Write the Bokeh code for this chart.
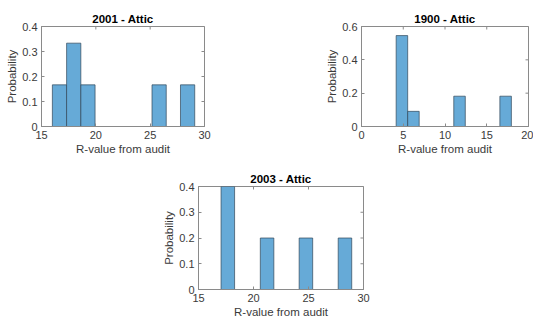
import math
from bokeh.plotting import figure
from bokeh.layouts import row, column
from bokeh.models import FixedTicker, CustomJSTickFormatter, Spacer
from bokeh.embed import file_html
from bokeh.resources import INLINE

# ---------------- data ----------------
title_a = "2001 - Attic"
left_a = [16.0, 17.31, 18.62, 25.17, 27.79]
width_a = 1.31
prob_a = [1 / 6, 2 / 6, 1 / 6, 1 / 6, 1 / 6]
xticks_a = [15, 20, 25, 30]
yticks_a = [0, 0.1, 0.2, 0.3, 0.4]

title_b = "1900 - Attic"
left_b = [4.15, 5.53, 11.05, 16.57]
width_b = 1.38
prob_b = [6 / 11, 1 / 11, 2 / 11, 2 / 11]
xticks_b = [0, 5, 10, 15, 20]
yticks_b = [0, 0.2, 0.4, 0.6]

title_c = "2003 - Attic"
left_c = [17.05, 20.62, 24.15, 27.7]
width_c = 1.23
prob_c = [0.4, 0.2, 0.2, 0.2]
xticks_c = [15, 20, 25, 30]
yticks_c = [0, 0.1, 0.2, 0.3, 0.4]

x_label = "R-value from audit"
y_label = "Probability"

# ---------------- style ----------------
FONT = "Liberation Sans"
BAR_FILL = "#66aad7"
BAR_LINE = "#2e4255"
AXIS_COLOR = "#8a8a8a"
TEXT_COLOR = "#3a3a3a"

fmt_code = "return String(+tick.toFixed(3));"


def make_hist(title, lefts, width, probs, xticks, yticks, w, h, bl, br, bt, bb):
    xr = (xticks[0], xticks[-1])
    yr = (yticks[0], yticks[-1])
    p = figure(width=w, height=h, x_range=xr, y_range=yr, output_backend="svg",
               toolbar_location=None, min_border_left=bl, min_border_right=br,
               min_border_top=bt, min_border_bottom=bb)
    p.quad(left=lefts, right=[l + width for l in lefts], bottom=0, top=probs,
           fill_color=BAR_FILL, line_color=BAR_LINE, line_width=0.8, line_alpha=0.85)

    # mirrored inward ticks on the top and right edges of the box
    p.scatter(x=xticks, y=[yr[1]] * len(xticks), marker="dash", size=6,
              angle=math.pi / 2, line_color=AXIS_COLOR, line_width=1)
    p.scatter(x=[xr[1]] * len(yticks), y=yticks, marker="dash", size=6,
              line_color=AXIS_COLOR, line_width=1)

    p.grid.visible = False
    p.outline_line_color = AXIS_COLOR
    p.outline_line_alpha = 1
    p.background_fill_color = "white"
    p.border_fill_color = "white"

    p.title.text = title
    p.title.align = "center"
    p.title.text_font = FONT
    p.title.text_font_size = "11.5px"
    p.title.text_font_style = "bold"
    p.title.text_color = "black"
    p.title.standoff = 3

    p.xaxis.ticker = FixedTicker(ticks=xticks)
    p.yaxis.ticker = FixedTicker(ticks=yticks)
    p.xaxis.axis_label = x_label
    p.yaxis.axis_label = y_label
    for ax in (p.xaxis, p.yaxis):
        ax.formatter = CustomJSTickFormatter(code=fmt_code)
        ax.major_tick_in = 3
        ax.major_tick_out = 0
        ax.minor_tick_line_color = None
        ax.axis_line_color = AXIS_COLOR
        ax.major_tick_line_color = AXIS_COLOR
        ax.major_label_text_font = FONT
        ax.major_label_text_font_size = "11px"
        ax.major_label_text_color = TEXT_COLOR
        ax.major_label_standoff = 4
        ax.axis_label_text_font = FONT
        ax.axis_label_text_font_size = "11.5px"
        ax.axis_label_text_font_style = "normal"
        ax.axis_label_text_color = TEXT_COLOR
        ax.axis_label_standoff = 1
    return p


p1 = make_hist(title_a, left_a, width_a, prob_a, xticks_a, yticks_a,
               300, 168, 41, 96, 26, 40)
p2 = make_hist(title_b, left_b, width_b, prob_b, xticks_b, yticks_b,
               233, 168, 61, 5, 23, 42)
p3 = make_hist(title_c, left_c, width_c, prob_c, xticks_c, yticks_c,
               250, 160, 48, 37, 18, 39)

layout = column(row(p1, p2), row(Spacer(width=150, height=160), p3))

open("out.html", "w").write(file_html(layout, INLINE))
